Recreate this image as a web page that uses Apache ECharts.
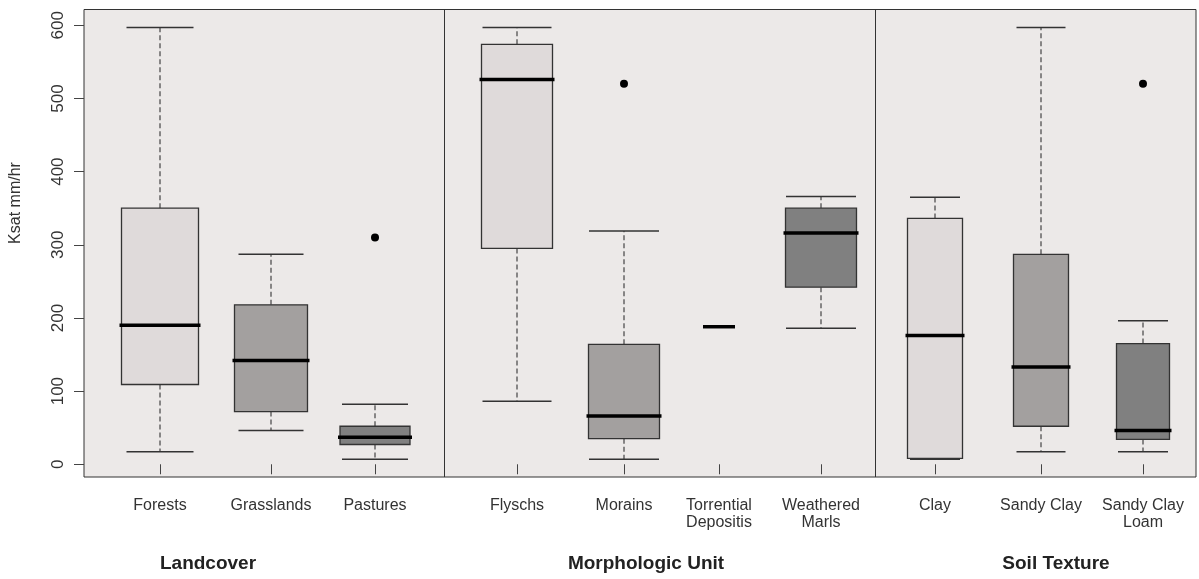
<!DOCTYPE html>
<html>
<head>
<meta charset="utf-8">
<script src="https://cdn.jsdelivr.net/npm/echarts@6/dist/echarts.min.js"></script>
<style>
html,body{margin:0;padding:0;background:#fff;}
#chart{width:1199px;height:579px;}
</style>
</head>
<body>
<div id="chart"></div>
<script>
// ---- data ----
const categories = ['Forests', 'Grasslands', 'Pastures', 'Flyschs', 'Morains', 'Torrential\nDepositis', 'Weathered\nMarls', 'Clay', 'Sandy Clay', 'Sandy Clay\nLoam'];
const groupNames = ['Landcover', 'Morphologic Unit', 'Soil Texture'];
const whiskerLow = [17, 46, 7, 86, 7, 188, 186, 7, 17, 17];
const q1Values = [109, 72, 27, 295, 35, 188, 242, 8, 52, 34];
const medianValues = [190, 142, 37, 526, 66, 188, 316, 176, 133, 46];
const q3Values = [350, 218, 52, 574, 164, 188, 350, 336, 287, 165];
const whiskerHigh = [597, 287, 82, 597, 319, 188, 366, 365, 597, 196];
const outlierCategory = ['Pastures', 'Morains', 'Sandy Clay\nLoam'];
const outlierValues = [310, 520, 520];
const yTicks = [0, 100, 200, 300, 400, 500, 600];

// ---- layout / style (not data) ----
const slotX = [76, 187, 291, 433, 540, 635, 737, 851, 957, 1059];
const dividerX = [360, 791];
const groupCenterPx = [208, 646, 1056];
const boxWidth = [77, 73, 70, 71, 71, 28, 71, 55, 55, 53];
const capWidth = [67, 65, 66, 69, 70, 0, 70, 50, 49, 50];
const fillColors = ['#dfdada', '#a3a09f', '#808080', '#dfdada', '#a3a09f', '#808080', '#808080', '#dfdada', '#a3a09f', '#808080'];

const boxData = categories.map((c, i) => [slotX[i], whiskerLow[i], q1Values[i], medianValues[i], q3Values[i], whiskerHigh[i]]);
const outlierData = outlierCategory.map((c, k) => [slotX[categories.indexOf(c)], outlierValues[k]]);

function renderItem(params, api) {
  const i = params.dataIndex;
  const x = api.value(0);
  const pMin = api.coord([x, api.value(1)]);
  const pQ1 = api.coord([x, api.value(2)]);
  const pMed = api.coord([x, api.value(3)]);
  const pQ3 = api.coord([x, api.value(4)]);
  const pMax = api.coord([x, api.value(5)]);
  const bw = api.size([boxWidth[i], 0])[0];
  const cw = api.size([capWidth[i], 0])[0];
  const cx = pMed[0];
  const dashStyle = {stroke: '#444', lineWidth: 1.2, lineDash: [5, 3], fill: null};
  const capStyle = {stroke: '#333', lineWidth: 1.5, fill: null};
  const children = [];
  if (pMax[1] < pQ3[1]) {
    children.push({type: 'line', shape: {x1: cx, y1: pQ3[1], x2: cx, y2: pMax[1]}, style: dashStyle});
  }
  if (pMin[1] > pQ1[1]) {
    children.push({type: 'line', shape: {x1: cx, y1: pQ1[1], x2: cx, y2: pMin[1]}, style: dashStyle});
  }
  if (cw > 0) {
    children.push({type: 'line', shape: {x1: cx - cw / 2, y1: pMax[1], x2: cx + cw / 2, y2: pMax[1]}, style: capStyle});
    children.push({type: 'line', shape: {x1: cx - cw / 2, y1: pMin[1], x2: cx + cw / 2, y2: pMin[1]}, style: capStyle});
  }
  if (pQ1[1] - pQ3[1] > 0.5) {
    children.push({type: 'rect', shape: {x: cx - bw / 2, y: pQ3[1], width: bw, height: pQ1[1] - pQ3[1]},
      style: {fill: fillColors[i], stroke: '#333', lineWidth: 1.3}});
  }
  children.push({type: 'line', shape: {x1: cx - bw / 2 - 2, y1: pMed[1], x2: cx + bw / 2 + 2, y2: pMed[1]},
    style: {stroke: '#000', lineWidth: 3.5}});
  return {type: 'group', children: children};
}

const chart = echarts.init(document.getElementById('chart'));
chart.setOption({
  animation: false,
  backgroundColor: '#ffffff',
  grid: {left: 84, right: 3, top: 9.5, bottom: 102, show: true, borderColor: '#333', borderWidth: 1, backgroundColor: '#ece9e8'},
  xAxis: {
    type: 'value', min: 0, max: 1112,
    axisLine: {show: false}, splitLine: {show: false},
    axisTick: {show: true, length: 10, customValues: slotX, lineStyle: {color: '#444', width: 1}},
    axisLabel: {customValues: slotX, formatter: v => categories[slotX.indexOf(v)] || '',
      margin: 20, fontSize: 16, lineHeight: 17, color: '#333', fontFamily: 'Liberation Sans, Arial, sans-serif'}
  },
  yAxis: {
    type: 'value', min: -17.4, max: 621.6,
    axisLine: {show: false}, splitLine: {show: false},
    axisTick: {show: true, length: 10, customValues: yTicks, lineStyle: {color: '#444', width: 1}},
    axisLabel: {customValues: yTicks, rotate: 90, margin: 17, fontSize: 17, color: '#333', fontFamily: 'Liberation Sans, Arial, sans-serif'}
  },
  graphic: [
    {type: 'text', x: 16, y: 203, rotation: Math.PI / 2,
      style: {text: 'Ksat mm/hr', align: 'center', verticalAlign: 'middle', fill: '#333', font: '16px "Liberation Sans", Arial, sans-serif'}},
    ...groupNames.map((g, k) => ({type: 'text', x: groupCenterPx[k], y: 564,
      style: {text: g, align: 'center', verticalAlign: 'middle', fill: '#222', font: 'bold 19px "Liberation Sans", Arial, sans-serif'}}))
  ],
  series: [
    {type: 'custom', renderItem: renderItem, data: boxData, silent: true, clip: false,
      encode: {x: 0, y: [1, 2, 3, 4, 5]}},
    {type: 'scatter', data: outlierData, symbol: 'circle', symbolSize: 8, silent: true,
      itemStyle: {color: '#000', opacity: 1},
      markLine: {silent: true, symbol: 'none', label: {show: false},
        lineStyle: {color: '#333', type: 'solid', width: 1},
        data: dividerX.map(v => ({xAxis: v}))}}
  ]
});
</script>
</body>
</html>
